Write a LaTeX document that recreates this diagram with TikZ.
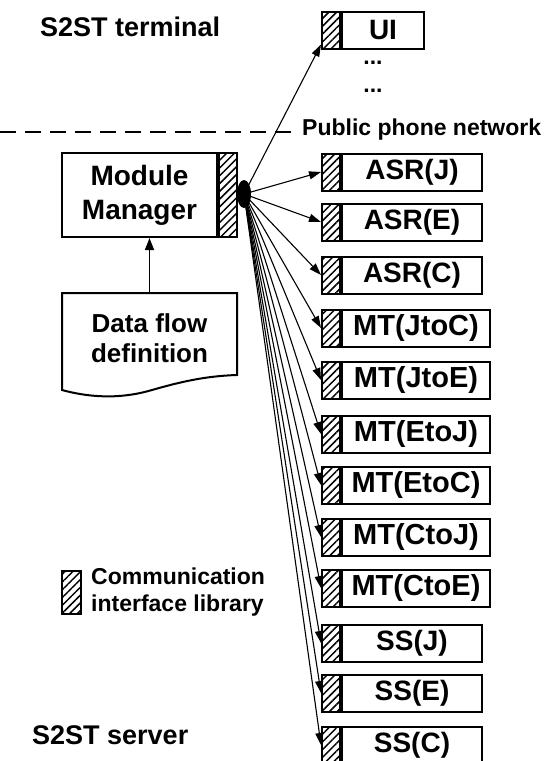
\documentclass[tikz,border=0pt]{standalone}
\usepackage{fontspec}
\setmainfont{Liberation Sans}
\usetikzlibrary{arrows.meta,patterns.meta,positioning}
\begin{document}
\begin{tikzpicture}[x=1pt,y=-1pt,
    modbox/.style={draw, line width=2pt, minimum width=140pt, minimum height=37pt,
      inner sep=0pt, font=\bfseries\fontsize{28}{30}\selectfont},
    mtbox/.style={modbox, minimum width=148pt, font=\bfseries\fontsize{29}{30}\selectfont},
    lib/.style={draw, line width=2pt, minimum width=18pt, minimum height=37pt, inner sep=0pt,
      pattern={Lines[angle=45,distance=5.5pt,line width=1.5pt]}},
    title/.style={inner sep=0pt, anchor=west, font=\bfseries\fontsize{27}{30}\selectfont},
    small/.style={inner sep=0pt, font=\bfseries\fontsize{23}{27}\selectfont}]
  \useasboundingbox (0,0) rectangle (551,761);
  % sides of the network
  \node[title] (term) at (40,27) {S2ST terminal};
  \node[title] (serv) at (32,735) {S2ST server};
  \draw[line width=2.5pt, dash pattern=on 16pt off 9pt] (0,132) -- (292,132);
  \node[small, anchor=west] (pub) at (302,130) {Public phone network};
  % manager side
  \node[modbox, minimum width=155pt, minimum height=84pt, align=center,
    font=\bfseries\fontsize{28}{34}\selectfont] (mm) at (139.5,195) {Module\\Manager};
  \node[lib, minimum height=84pt, right=0pt of mm] (mml) {};
  \node[align=center, inner sep=0pt, minimum width=175pt, minimum height=90pt,
    font=\bfseries\fontsize{26}{30}\selectfont] (dfd) at (149.5,338) {Data flow\\definition};
  \draw[line width=2pt] (237,375) -- (237,293) -- (62,293) -- (62,390)
    .. controls (95,399) and (125,398) .. (152,390)
    .. controls (180,382) and (205,376) .. (237,375) -- cycle;
  \draw[-{Triangle[length=12pt,width=9pt]}, line width=1.4pt] (dfd.north) -- (dfd.north |- mm.south);
  \coordinate (hub) at (244,194);
  \fill (hub) ellipse [x radius=7pt, y radius=14pt];
  % modules
  \node[lib] (uil) at (331,30) {};
  \node[modbox, minimum width=82pt, right=0pt of uil] (ui) {UI};
  \node[small] (dots1) at (373,63) {...};
  \node[small] (dots2) at (373,91) {...};
  \node[lib] (asrjl) at (331,172) {};
  \node[modbox, right=0pt of asrjl] (asrj) {ASR(J)};
  \node[lib] (asrel) at (331,222) {};
  \node[modbox, right=0pt of asrel] (asre) {ASR(E)};
  \node[lib] (asrcl) at (331,275) {};
  \node[modbox, right=0pt of asrcl] (asrc) {ASR(C)};
  \node[lib] (jtocl) at (331,328) {};
  \node[mtbox, right=0pt of jtocl] (jtoc) {MT(JtoC)};
  \node[lib] (jtoel) at (331,380) {};
  \node[mtbox, right=0pt of jtoel] (jtoe) {MT(JtoE)};
  \node[lib] (etojl) at (331,434) {};
  \node[mtbox, right=0pt of etojl] (etoj) {MT(EtoJ)};
  \node[lib] (etocl) at (331,485) {};
  \node[mtbox, right=0pt of etocl] (etoc) {MT(EtoC)};
  \node[lib] (ctojl) at (331,537) {};
  \node[mtbox, right=0pt of ctojl] (ctoj) {MT(CtoJ)};
  \node[lib] (ctoel) at (331,588) {};
  \node[mtbox, right=0pt of ctoel] (ctoe) {MT(CtoE)};
  \node[lib] (ssjl) at (331,643) {};
  \node[modbox, right=0pt of ssjl] (ssj) {SS(J)};
  \node[lib] (ssel) at (331,693) {};
  \node[modbox, right=0pt of ssel] (sse) {SS(E)};
  \node[lib] (sscl) at (331,745) {};
  \node[modbox, right=0pt of sscl] (ssc) {SS(C)};
  % legend
  \node[lib, minimum width=19pt, minimum height=43pt] (key) at (71.5,592.5) {};
  \node[small, align=left, right=9pt of key] (keytext) {Communication\\interface library};
  \begin{scope}[-{Triangle[length=12pt,width=8pt]}, line width=1.1pt]
    \draw (hub) -- ([yshift=5pt]uil.south west);
    \draw (hub) -- (asrjl.west);
    \draw (hub) -- (asrel.west);
    \draw (hub) -- (asrcl.west);
    \draw (hub) -- (jtocl.west);
    \draw (hub) -- (jtoel.west);
    \draw (hub) -- (etojl.west);
    \draw (hub) -- (etocl.west);
    \draw (hub) -- (ctojl.west);
    \draw (hub) -- (ctoel.west);
    \draw (hub) -- (ssjl.west);
    \draw (hub) -- (ssel.west);
    \draw (hub) -- (sscl.west);
  \end{scope}
\end{tikzpicture}
\end{document}
